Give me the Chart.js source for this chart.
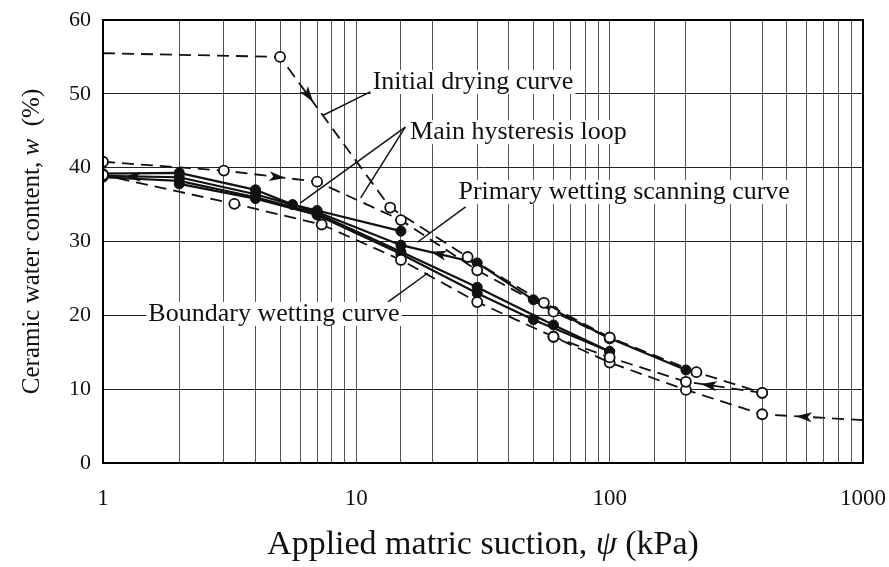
<!DOCTYPE html>
<html>
<head>
<meta charset="utf-8">
<script src="https://cdn.jsdelivr.net/npm/chart.js@4.4.1/dist/chart.umd.min.js"></script>
<style>
  html, body { margin: 0; padding: 0; background: #fff; }
  #wrap { width: 889px; height: 567px; }
</style>
</head>
<body>
<div id="wrap"><canvas id="chart" width="889" height="567"></canvas></div>
<script>
// suction (kPa) / water content (%)
const initDryX = [1, 5, 13.6, 27.5, 55, 100, 220, 400];
const initDryY = [55.5, 55.0, 34.6, 27.9, 21.7, 17.0, 12.3, 9.5];

const bndDryX = [1, 3, 7, 15, 30, 60, 100];
const bndDryY = [40.8, 39.6, 38.1, 32.9, 26.1, 20.5, 16.9];

const wetFrom400X = [400, 200, 100, 60];
const wetFrom400Y = [9.5, 11.0, 14.3, 17.1];

const bndWetX = [1000, 400, 200, 100, 60, 30, 15, 7.3, 3.3, 1];
const bndWetY = [5.8, 6.6, 9.9, 13.6, 17.1, 21.8, 27.5, 32.3, 35.1, 39.0];

const scan1X = [1, 2, 4, 5.6, 7, 15];
const scan1Y = [39.2, 39.3, 37.0, 35.0, 34.2, 31.4];

const primWetX = [200, 100, 50, 30, 15, 7, 4, 2, 1];
const primWetY = [12.6, 16.9, 22.1, 27.1, 29.5, 34.0, 36.4, 38.7, 38.9];

const scan3X = [1, 2, 4, 7, 15, 30, 60, 100];
const scan3Y = [38.7, 38.2, 36.0, 33.8, 28.6, 23.8, 18.7, 15.1];

const scan4X = [2, 4, 7, 15, 30, 50, 100];
const scan4Y = [37.8, 35.8, 33.6, 28.3, 23.0, 19.4, 15.1];

const xTickLabels = [1, 10, 100, 1000];

// annotations (data coordinates)
const labelText = ['Initial drying curve', 'Main hysteresis loop', 'Primary wetting scanning curve', 'Boundary wetting curve'];
const labelX = [11.6, 16.3, 25.3, 1.51];
const labelY = [51.6, 44.8, 36.7, 20.2];

const leaderX1 = [11.4, 15.6, 15.6, 27, 13.3];
const leaderY1 = [50.3, 45.5, 45.5, 34.7, 21.8];
const leaderX2 = [7.4, 6.0, 10.4, 17.4, 19.1];
const leaderY2 = [47.1, 35.2, 35.9, 29.9, 25.7];

const arrowTipX = [6.76, 5.24, 1.22, 19.6, 229, 543];
const arrowTipY = [48.9, 38.6, 38.8, 28.6, 10.7, 6.33];
const arrowFromX = [5, 3, 2, 30, 400, 1000];
const arrowFromY = [55, 39.6, 38.7, 27.1, 9.5, 5.8];

const SERIF = '"Liberation Serif", "DejaVu Serif", serif';
const INK = '#111';

function pts(xs, ys) {
    return xs.map((x, i) => ({ x: x, y: ys[i] }));
}

function dashedSet(xs, ys, noMarkerAt) {
    return {
        data: pts(xs, ys),
        borderColor: INK,
        borderWidth: 1.8,
        borderDash: [12, 7],
        pointRadius: xs.map((x, i) => i === noMarkerAt ? 0 : 5),
        pointBackgroundColor: '#fff',
        pointBorderColor: INK,
        pointBorderWidth: 1.8,
        showLine: true
    };
}

function solidSet(xs, ys) {
    return {
        data: pts(xs, ys),
        borderColor: INK,
        borderWidth: 2.2,
        pointRadius: 5,
        pointBackgroundColor: INK,
        pointBorderColor: INK,
        pointBorderWidth: 1,
        showLine: true
    };
}

// labels, leader lines, arrows, axis titles and frame
const overlay = {
    id: 'overlay',
    afterDatasetsDraw(chart) {
        const ctx = chart.ctx;
        const xs = chart.scales.x;
        const ys = chart.scales.y;
        const area = chart.chartArea;
        ctx.save();

        // frame
        ctx.strokeStyle = '#000';
        ctx.lineWidth = 2;
        ctx.strokeRect(area.left, area.top, area.right - area.left, area.bottom - area.top);

        // leader lines
        ctx.lineWidth = 1.5;
        ctx.strokeStyle = INK;
        leaderX1.forEach((x, i) => {
            ctx.beginPath();
            ctx.moveTo(xs.getPixelForValue(x), ys.getPixelForValue(leaderY1[i]));
            ctx.lineTo(xs.getPixelForValue(leaderX2[i]), ys.getPixelForValue(leaderY2[i]));
            ctx.stroke();
        });

        // arrowheads
        ctx.fillStyle = INK;
        arrowTipX.forEach((x, i) => {
            const tx = xs.getPixelForValue(x), ty = ys.getPixelForValue(arrowTipY[i]);
            const fx = xs.getPixelForValue(arrowFromX[i]), fy = ys.getPixelForValue(arrowFromY[i]);
            const a = Math.atan2(ty - fy, tx - fx);
            ctx.save();
            ctx.translate(tx, ty);
            ctx.rotate(a);
            ctx.beginPath();
            ctx.moveTo(0, 0);
            ctx.lineTo(-16, -5);
            ctx.lineTo(-12, 0);
            ctx.lineTo(-16, 5);
            ctx.closePath();
            ctx.fill();
            ctx.restore();
        });

        // annotation text
        ctx.font = '26px ' + SERIF;
        ctx.textBaseline = 'middle';
        ctx.textAlign = 'left';
        labelText.forEach((t, i) => {
            const px = xs.getPixelForValue(labelX[i]), py = ys.getPixelForValue(labelY[i]);
            const w = ctx.measureText(t).width;
            ctx.fillStyle = '#fff';
            ctx.fillRect(px - 2, py - 12, w + 4, 24);
            ctx.fillStyle = INK;
            ctx.fillText(t, px, py);
        });

        // axis titles with italic symbols
        drawMixed(ctx, [['Applied matric suction, ', false], ['\u03C8', true], [' (kPa)', false]],
            (area.left + area.right) / 2, 545, 0, 34);
        drawMixed(ctx, [['Ceramic water content, ', false], ['w', true], ['  (%)', false]],
            32, (area.top + area.bottom) / 2, -Math.PI / 2, 25);
        ctx.restore();
    }
};

function drawMixed(ctx, parts, cx, cy, rot, size) {
    const fonts = parts.map(p => (p[1] ? 'italic ' : '') + size + 'px ' + SERIF);
    let total = 0;
    const widths = parts.map((p, i) => {
        ctx.font = fonts[i];
        const w = ctx.measureText(p[0]).width;
        total += w;
        return w;
    });
    ctx.save();
    ctx.translate(cx, cy);
    ctx.rotate(rot);
    ctx.fillStyle = INK;
    ctx.textBaseline = 'middle';
    ctx.textAlign = 'left';
    let x = -total / 2;
    parts.forEach((p, i) => {
        ctx.font = fonts[i];
        ctx.fillText(p[0], x, 0);
        x += widths[i];
    });
    ctx.restore();
}

new Chart(document.getElementById('chart'), {
    type: 'scatter',
    data: {
        datasets: [
            dashedSet(initDryX, initDryY, 0),
            dashedSet(bndDryX, bndDryY, -1),
            dashedSet(wetFrom400X, wetFrom400Y, -1),
            dashedSet(bndWetX, bndWetY, 0),
            solidSet(scan1X, scan1Y),
            solidSet(primWetX, primWetY),
            solidSet(scan3X, scan3Y),
            solidSet(scan4X, scan4Y)
        ]
    },
    options: {
        responsive: false,
        animation: false,
        devicePixelRatio: 1,
        layout: { padding: { top: 20, right: 26, left: 0, bottom: 0 } },
        plugins: {
            legend: { display: false },
            tooltip: { enabled: false }
        },
        scales: {
            x: {
                type: 'logarithmic',
                min: 1,
                max: 1000,
                afterFit: s => {
                    s.height = 104;
                    s.paddingLeft = 0;
                    s.paddingRight = 0;
                },
                grid: { color: '#555', lineWidth: 1, drawTicks: false },
                border: { color: '#000', width: 2 },
                ticks: {
                    autoSkip: false,
                    maxRotation: 0,
                    padding: 22,
                    color: INK,
                    font: { family: SERIF, size: 23 },
                    callback: v => {
                        const l = Math.log10(v);
                        return xTickLabels.includes(Math.round(v)) && Math.abs(l - Math.round(l)) < 1e-6 ? String(Math.round(v)) : '';
                    }
                }
            },
            y: {
                min: 0,
                max: 60,
                afterFit: s => {
                    s.width = 103;
                    s.paddingTop = 0;
                    s.paddingBottom = 0;
                },
                grid: { color: '#222', lineWidth: 1, drawTicks: false },
                border: { color: '#000', width: 2 },
                ticks: {
                    stepSize: 10,
                    padding: 12,
                    color: INK,
                    font: { family: SERIF, size: 22 }
                }
            }
        }
    },
    plugins: [overlay]
});
</script>
</body>
</html>
